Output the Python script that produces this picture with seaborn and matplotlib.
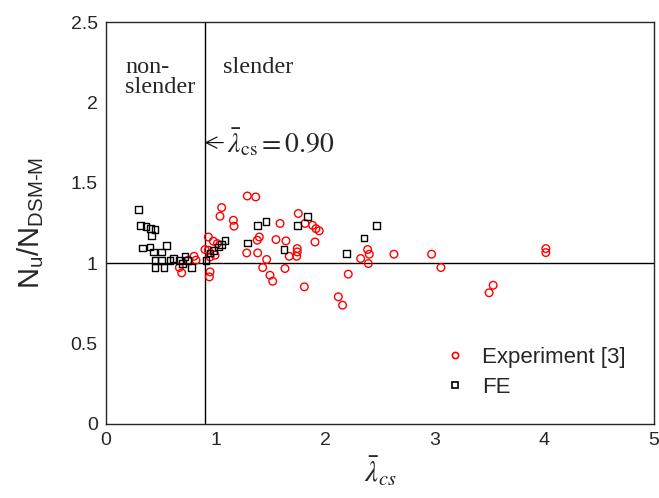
import matplotlib
matplotlib.use("Agg")
import matplotlib.pyplot as plt
from matplotlib.lines import Line2D
import seaborn as sns
import pandas as pd

exp_x = [1.289, 1.366, 1.055, 1.040, 1.162, 1.168, 1.588, 1.755, 1.399, 1.380,
         1.551, 1.642, 1.284, 1.384, 1.466, 1.672, 1.430, 1.633, 1.496, 1.521,
         0.934, 0.979, 1.016, 0.903, 0.934, 0.949, 0.995, 0.949, 0.943, 0.690,
         0.669, 0.751, 0.803, 0.821, 1.816, 1.885, 1.916, 1.946, 1.907, 1.745,
         1.745, 1.740, 1.810, 2.120, 2.159, 2.211, 2.324, 2.388, 2.403, 2.394,
         2.628, 2.972, 3.057, 4.015, 4.015, 3.534, 3.497]
exp_y = [1.418, 1.412, 1.346, 1.292, 1.267, 1.230, 1.247, 1.309, 1.163, 1.143,
         1.147, 1.139, 1.064, 1.064, 1.023, 1.043, 0.973, 0.967, 0.925, 0.888,
         1.163, 1.137, 1.122, 1.085, 1.081, 1.039, 1.050, 0.946, 0.915, 0.940,
         0.973, 1.019, 1.043, 1.019, 1.247, 1.236, 1.215, 1.201, 1.132, 1.091,
         1.070, 1.043, 0.853, 0.791, 0.739, 0.932, 1.029, 1.085, 1.056, 0.998,
         1.056, 1.056, 0.973, 1.091, 1.066, 0.863, 0.816]

fe_x = [0.295, 0.316, 0.365, 0.407, 0.447, 0.417, 0.335, 0.401, 0.554, 0.508,
        0.432, 0.447, 0.508, 0.584, 0.447, 0.529, 0.614, 0.669, 0.700, 0.721,
        0.742, 0.782, 0.912, 0.949, 0.979, 1.025, 1.055, 1.086, 1.289, 1.380,
        1.460, 1.624, 1.745, 1.837, 2.196, 2.354, 2.470]
fe_y = [1.335, 1.236, 1.230, 1.215, 1.211, 1.174, 1.095, 1.101, 1.112, 1.070,
        1.070, 1.019, 1.019, 1.019, 0.973, 0.973, 1.030, 1.019, 1.000, 1.043,
        1.019, 0.973, 1.019, 1.064, 1.081, 1.101, 1.116, 1.139, 1.126, 1.236,
        1.257, 1.085, 1.232, 1.288, 1.060, 1.157, 1.236]

series = ["Experiment [3]", "FE"]
x_ticks = [0, 1, 2, 3, 4, 5]
y_ticks = [0, 0.5, 1, 1.5, 2, 2.5]
y_tick_labels = ["0", "0.5", "1", "1.5", "2", "2.5"]
lam_limit = 0.90

df = pd.DataFrame({
    "x": exp_x + fe_x,
    "y": exp_y + fe_y,
    "source": [series[0]] * len(exp_x) + [series[1]] * len(fe_x),
})

sns.set_theme(style="white")
plt.rcParams["font.family"] = ["Liberation Sans", "DejaVu Sans"]
plt.rcParams["mathtext.fontset"] = "custom"
plt.rcParams["mathtext.rm"] = "Liberation Sans"
plt.rcParams["mathtext.it"] = "Liberation Sans:italic"

fig = plt.figure(figsize=(6.59, 4.98), dpi=100)
ax = fig.add_axes([0.161, 0.1486, 0.831, 0.8072])

ax.axhline(1.0, color="black", lw=1.0, zorder=1)
ax.axvline(lam_limit, color="black", lw=1.0, zorder=1)

colors = {series[0]: "red", series[1]: "black"}
sns.scatterplot(data=df, x="x", y="y", hue="source", style="source",
                size="source", sizes={series[0]: 30, series[1]: 24},
                palette=colors,
                markers={series[0]: "o", series[1]: "s"},
                linewidth=1.0, ax=ax, zorder=3, legend=False)
# make markers hollow
for coll in ax.collections:
    fc = coll.get_facecolors()
    coll.set_edgecolors(fc)
    coll.set_facecolors("none")

ax.set_xlim(0, 5)
ax.set_ylim(0, 2.5)
ax.set_xticks(x_ticks)
ax.set_xticklabels([str(t) for t in x_ticks])
ax.set_yticks(y_ticks)
ax.set_yticklabels(y_tick_labels)
ax.tick_params(direction="in", length=4, width=0.8, labelsize=14,
               colors="black", labelcolor="#262626", pad=6)
for sp in ax.spines.values():
    sp.set_color("#262626")
    sp.set_linewidth(1.0)

ax.set_xlabel(r"$\bar{\lambda}_{cs}$", fontsize=21, math_fontfamily="stix",
              labelpad=4, color="#262626")
ax.set_ylabel(r"N$_{\mathregular{u}}$/N$_{\mathregular{DSM‐M}}$", fontsize=21,
              labelpad=18, color="#262626")

serif = ["Liberation Serif", "DejaVu Serif"]
ax.text(0.173, 2.28, "non-\nslender", family=serif, fontsize=17.5,
        va="top", ha="left", linespacing=0.92)
ax.text(1.065, 2.28, "slender", family=serif, fontsize=17.5,
        va="top", ha="left")
ax.annotate(r"$\bar{\lambda}_{\mathrm{cs}} = 0.90$",
            xy=(lam_limit, 1.75), xytext=(1.10, 1.75),
            fontsize=20, math_fontfamily="stix", va="center", ha="left",
            arrowprops=dict(arrowstyle="->", color="black", lw=0.8,
                            shrinkA=0, shrinkB=0))

handles = [Line2D([], [], ls="none", marker="o", markersize=4.5,
                  markerfacecolor="none", markeredgecolor="red",
                  markeredgewidth=1.2),
           Line2D([], [], ls="none", marker="s", markersize=4.5,
                  markerfacecolor="none", markeredgecolor="black",
                  markeredgewidth=1.2)]
leg = ax.legend(handles, series, loc="upper left",
                bbox_to_anchor=(0.617, 0.192), frameon=False,
                fontsize=16, handlelength=1.0, handletextpad=0.7,
                labelspacing=0.4, borderpad=0, borderaxespad=0)

fig.savefig("out.png", dpi=100)
